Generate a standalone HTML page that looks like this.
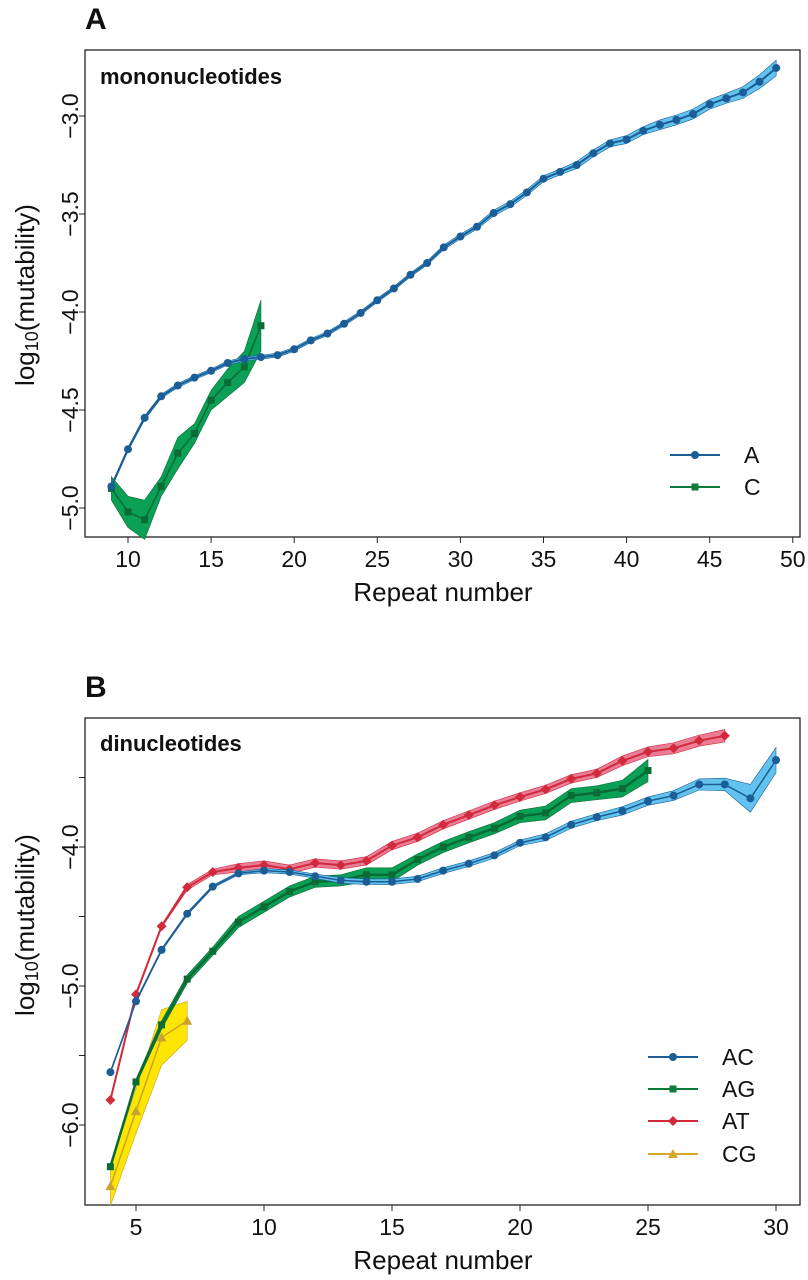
<!DOCTYPE html>
<html><head><meta charset="utf-8"><style>
html,body{margin:0;padding:0;background:#fff;}
svg{display:block;font-family:"Liberation Sans",Arial,sans-serif;}
</style></head><body>
<svg id="fig" width="808" height="1280" viewBox="0 0 808 1280" xmlns="http://www.w3.org/2000/svg"></svg>
<script>
// ---- Panel A data ----
const aX = [9,10,11,12,13,14,15,16,17,18,19,20,21,22,23,24,25,26,27,28,29,30,31,32,33,34,35,36,37,38,39,40,41,42,43,44,45,46,47,48,49];
const aA = [-4.89,-4.70,-4.54,-4.43,-4.375,-4.335,-4.30,-4.26,-4.24,-4.23,-4.22,-4.19,-4.145,-4.11,-4.06,-4.005,-3.94,-3.88,-3.81,-3.75,-3.67,-3.615,-3.565,-3.495,-3.45,-3.39,-3.32,-3.285,-3.25,-3.19,-3.14,-3.12,-3.075,-3.045,-3.02,-2.99,-2.94,-2.91,-2.88,-2.825,-2.755];
const aAerr = [0.01,0.01,0.01,0.01,0.01,0.01,0.01,0.01,0.01,0.01,0.01,0.01,0.01,0.01,0.01,0.01,0.01,0.01,0.01,0.01,0.012,0.012,0.012,0.015,0.015,0.015,0.015,0.015,0.018,0.018,0.018,0.02,0.02,0.025,0.025,0.025,0.025,0.025,0.03,0.035,0.04];
const cX = [9,10,11,12,13,14,15,16,17,18];
const cC = [-4.90,-5.02,-5.06,-4.89,-4.72,-4.62,-4.45,-4.36,-4.28,-4.07];
const cCerr = [0.06,0.08,0.1,0.05,0.08,0.05,0.05,0.07,0.08,0.13];
const aXTicks = [10,15,20,25,30,35,40,45,50];
const aYTicks = [-3.0,-3.5,-4.0,-4.5,-5.0];
const aYLabels = ["\u22123.0","\u22123.5","\u22124.0","\u22124.5","\u22125.0"];
// ---- Panel B data ----
const bAcX = [4,5,6,7,8,9,10,11,12,13,14,15,16,17,18,19,20,21,22,23,24,25,26,27,28,29,30];
const bAc = [-5.62,-5.11,-4.74,-4.48,-4.285,-4.19,-4.17,-4.18,-4.21,-4.24,-4.25,-4.25,-4.23,-4.17,-4.12,-4.06,-3.97,-3.93,-3.84,-3.785,-3.74,-3.67,-3.63,-3.55,-3.55,-3.65,-3.375];
const bAcErr = [0.01,0.01,0.01,0.01,0.01,0.01,0.015,0.015,0.015,0.02,0.02,0.02,0.02,0.02,0.02,0.02,0.02,0.025,0.025,0.025,0.03,0.03,0.035,0.04,0.045,0.1,0.09];
const bAgX = [4,5,6,7,8,9,10,11,12,13,14,15,16,17,18,19,20,21,22,23,24,25];
const bAg = [-6.30,-5.69,-5.28,-4.95,-4.75,-4.54,-4.43,-4.32,-4.25,-4.24,-4.20,-4.20,-4.09,-4.00,-3.93,-3.865,-3.78,-3.755,-3.63,-3.61,-3.58,-3.45];
const bAgErr = [0.02,0.02,0.03,0.03,0.03,0.04,0.04,0.04,0.04,0.04,0.05,0.05,0.04,0.04,0.04,0.04,0.045,0.05,0.05,0.05,0.06,0.08];
const bAtX = [4,5,6,7,8,9,10,11,12,13,14,15,16,17,18,19,20,21,22,23,24,25,26,27,28];
const bAt = [-5.82,-5.06,-4.57,-4.29,-4.18,-4.15,-4.13,-4.16,-4.115,-4.13,-4.10,-3.99,-3.93,-3.84,-3.77,-3.70,-3.64,-3.585,-3.51,-3.47,-3.38,-3.315,-3.29,-3.235,-3.20];
const bAtErr = [0.01,0.01,0.01,0.02,0.02,0.03,0.03,0.03,0.03,0.03,0.03,0.03,0.03,0.03,0.03,0.03,0.03,0.03,0.03,0.03,0.035,0.035,0.04,0.04,0.045];
const bCgX = [4,5,6,7];
const bCg = [-6.44,-5.90,-5.37,-5.25];
const bCgErr = [0.14,0.16,0.2,0.14];
const bXTicks = [5,10,15,20,25,30];
const bYTicks = [-3.5,-4.0,-4.5,-5.0,-5.5,-6.0];
const bYLabelVals = [-4.0,-5.0,-6.0];
const bYLabels = ["\u22124.0","\u22125.0","\u22126.0"];

const NS = "http://www.w3.org/2000/svg";
const svg = document.getElementById('fig');
function mk(tag, attrs, parent, text){
  const e = document.createElementNS(NS, tag);
  for (const k in attrs) e.setAttribute(k, attrs[k]);
  if (text !== undefined) e.textContent = text;
  (parent||svg).appendChild(e);
  return e;
}
function marker(g, shape, x, y, color){
  let m;
  if (shape==='circle') m = mk('circle',{cx:x,cy:y,r:4,fill:color},g);
  else if (shape==='square') m = mk('rect',{x:x-3.5,y:y-3.5,width:7,height:7,fill:color},g);
  else if (shape==='diamond') m = mk('polygon',{points:`${x},${y-5} ${x+5},${y} ${x},${y+5} ${x-5},${y}`,fill:color},g);
  else m = mk('polygon',{points:`${x},${y-5} ${x+5},${y+4} ${x-5},${y+4}`,fill:color},g);
  return m;
}
function series(name, xs, ys, errs, sx, sy, band, line, shape, lw){
  const g = mk('g',{});
  
  
  let up = xs.map((x,i)=>`${sx(x)},${sy(ys[i]+errs[i])}`);
  let lo = xs.map((x,i)=>`${sx(x)},${sy(ys[i]-errs[i])}`).reverse();
  const b = mk('polygon',{points:up.concat(lo).join(' '),fill:band,stroke:line,'stroke-width':0.6},g);
  
  
  const l = mk('polyline',{points:xs.map((x,i)=>`${sx(x)},${sy(ys[i])}`).join(' '),fill:'none',stroke:line,'stroke-width':lw},g);
  
  
  xs.forEach((x,i)=>{
    const m = marker(g, shape, sx(x), sy(ys[i]), line);
    
    
  });
}
function legendEntry(name, x, y, color, shape, label){
  const g = mk('g',{});
  
  
  mk('line',{x1:x,y1:y,x2:x+50,y2:y,stroke:color,'stroke-width':2},g);
  marker(g, shape, x+25, y, color);
  mk('text',{x:x+74,y:y+8,'font-size':23,fill:'#111'},g,label);
}
function axes(prefix, L,R,T,B, sx, sy, xt, yt, ylv, yl, yTitleY){
  const fr = mk('rect',{x:L,y:T,width:R-L,height:B-T,fill:'none',stroke:'#222','stroke-width':1.3});
  
  
  xt.forEach(v=>{
    mk('line',{x1:sx(v),y1:B,x2:sx(v),y2:B+6,stroke:'#222','stroke-width':1});
    const t = mk('text',{x:sx(v),y:B+30,'font-size':23,'text-anchor':'middle',fill:'#111'},svg,String(v));
    
    
  });
  yt.forEach(v=>{ mk('line',{x1:L,y1:sy(v),x2:L-6,y2:sy(v),stroke:'#222','stroke-width':1}); });
  ylv.forEach((v,i)=>{
    const y = sy(v);
    const t = mk('text',{x:70,y:y,'font-size':23,'text-anchor':'middle',fill:'#111',transform:`rotate(-90 70 ${y}) translate(0 8)`},svg,yl[i]);
    
    
  });
  const xtl = mk('text',{x:443,y:B+64,'font-size':26,'text-anchor':'middle',fill:'#111'},svg,'Repeat number');
  
  
  const ytl = mk('text',{x:25,y:yTitleY,'font-size':26,'text-anchor':'middle',fill:'#111',transform:`rotate(-90 25 ${yTitleY}) translate(0 9)`},svg);
  
  
  ytl.appendChild(document.createTextNode('log'));
  mk('tspan',{'font-size':18,dy:4},ytl,'10');
  mk('tspan',{dy:-4},ytl,'(mutability)');
}

// ---- Panel A ----
{
  const L=85,R=800,T=50,B=537;
  const sx = v => 128 + (v-10)*16.62;
  const sy = v => 116 + (-3.0 - v)*196;
  axes('panel-a',L,R,T,B,sx,sy,aXTicks,aYTicks,aYTicks,aYLabels,295);
  series('c-mono', cX, cC, cCerr, sx, sy, '#0aa055', '#0b6b35', 'square', 1.5);
  series('a-mono', aX, aA, aAerr, sx, sy, '#62c4ee', '#1b5d96', 'circle', 2);
  const p = mk('text',{x:85,y:29,'font-size':30,'font-weight':'bold',fill:'#111'},svg,'A');
   
  const st = mk('text',{x:100,y:84,'font-size':22,'font-weight':'bold',fill:'#111'},svg,'mononucleotides');
   
  legendEntry('a', 670, 455, '#1b5d96', 'circle', 'A');
  legendEntry('c', 670, 487, '#0b7a3b', 'square', 'C');
}
// ---- Panel B ----
{
  const L=85,R=800,T=718,B=1205;
  const sx = v => 136 + (v-5)*25.6;
  const sy = v => 847 + (-4.0 - v)*139;
  axes('panel-b',L,R,T,B,sx,sy,bXTicks,bYTicks,bYLabelVals,bYLabels,925);
  series('cg', bCgX, bCg, bCgErr, sx, sy, '#ffe600', '#c9a232', 'triangle', 1.5);
  series('ag', bAgX, bAg, bAgErr, sx, sy, '#0aa055', '#0b6b35', 'square', 2.5);
  series('at', bAtX, bAt, bAtErr, sx, sy, '#ea7d95', '#d02a3c', 'diamond', 2);
  series('ac', bAcX, bAc, bAcErr, sx, sy, '#62c4ee', '#1b5d96', 'circle', 1.5);
  const p = mk('text',{x:85,y:697,'font-size':30,'font-weight':'bold',fill:'#111'},svg,'B');
   
  const st = mk('text',{x:100,y:751,'font-size':22,'font-weight':'bold',fill:'#111'},svg,'dinucleotides');
   
  legendEntry('ac', 648, 1057, '#1b5d96', 'circle', 'AC');
  legendEntry('ag', 648, 1089, '#0b7a3b', 'square', 'AG');
  legendEntry('at', 648, 1121, '#d02a3c', 'diamond', 'AT');
  legendEntry('cg', 648, 1154, '#d4a82a', 'triangle', 'CG');
}
</script>
</body></html>
